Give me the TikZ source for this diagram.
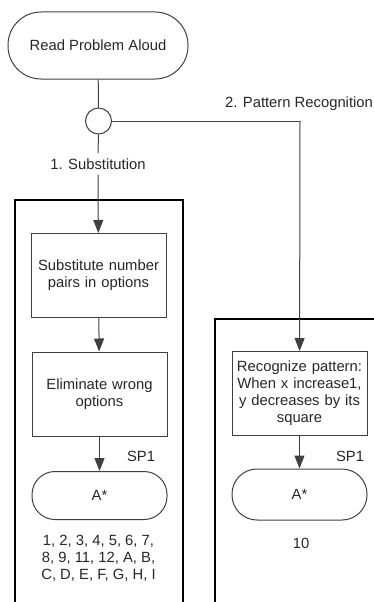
\documentclass[tikz,border=0pt]{standalone}
\usepackage{fontspec}
\setmainfont{Liberation Sans}
\usetikzlibrary{arrows.meta}
\begin{document}
\begin{tikzpicture}[x=1pt,y=-1pt,
  every node/.style={font=\fontsize{14.8}{17}\selectfont, text=black!85},
  ln/.style={draw=black!75, line width=1pt},
  arr/.style={ln, -{Triangle[length=13pt,width=10pt]}},
  frame/.style={draw=black, line width=2pt},
  procbox/.style={ln, rectangle, minimum width=135, minimum height=84, inner sep=2pt, align=center, text width=131},
  term/.style={ln, rectangle, rounded corners=23pt, minimum width=135, minimum height=48, align=center},
  lbl/.style={inner sep=0pt, align=center}]
\useasboundingbox (0,0) rectangle (374,602);
% nodes
\node[ln, rectangle, rounded corners=33pt, minimum width=180, minimum height=67] (read) at (98,45.5) {Read Problem Aloud};
\node[ln, circle, minimum size=26, inner sep=0pt] (dec) at (98.5,121) {};
\node[lbl, inner sep=5pt] (sublbl) at (98,164) {1. Substitution};
\node[lbl] (prlbl) at (299,104) {2. Pattern Recognition};
\coordinate (corner) at (300,121);
% frames
\draw[frame] (15,602) -- (15,200) -- (183,200) -- (183,602);
\draw[frame] (215,602) -- (215,319) -- (374,319);
% left column
\node[procbox] (sub) at (98.5,275.5) {Substitute number\\pairs in options};
\node[procbox] (elim) at (99.5,394) {Eliminate wrong\\options};
\node[term] (a1) at (99.5,495.5) {A*};
\node[lbl] (sp1a) at (141,456) {SP1};
\node[lbl] (list) at (98.5,558) {1, 2, 3, 4, 5, 6, 7,\\8, 9, 11, 12, A, B,\\C, D, E, F, G, H, I};
% right column
\node[procbox] (rec) at (299.5,393.5) {Recognize pattern:\\When x increase1,\\y decreases by its\\square};
\node[term, minimum height=51, rounded corners=25pt] (a2) at (299.5,494.5) {A*};
\node[lbl] (sp1b) at (350,456) {SP1};
\node[lbl] (ten) at (301,543) {10};
% connectors
\draw[ln] (read) -- (dec);
\draw[ln] (dec) -- (sublbl);
\draw[arr] (sublbl) -- (sub);
\draw[arr] (sub) -- (elim);
\draw[arr] (elim) -- (a1);
\draw[ln] (dec) -- (corner);
\draw[arr] (corner) -- (rec);
\draw[arr] (rec) -- (a2);
\end{tikzpicture}
\end{document}
